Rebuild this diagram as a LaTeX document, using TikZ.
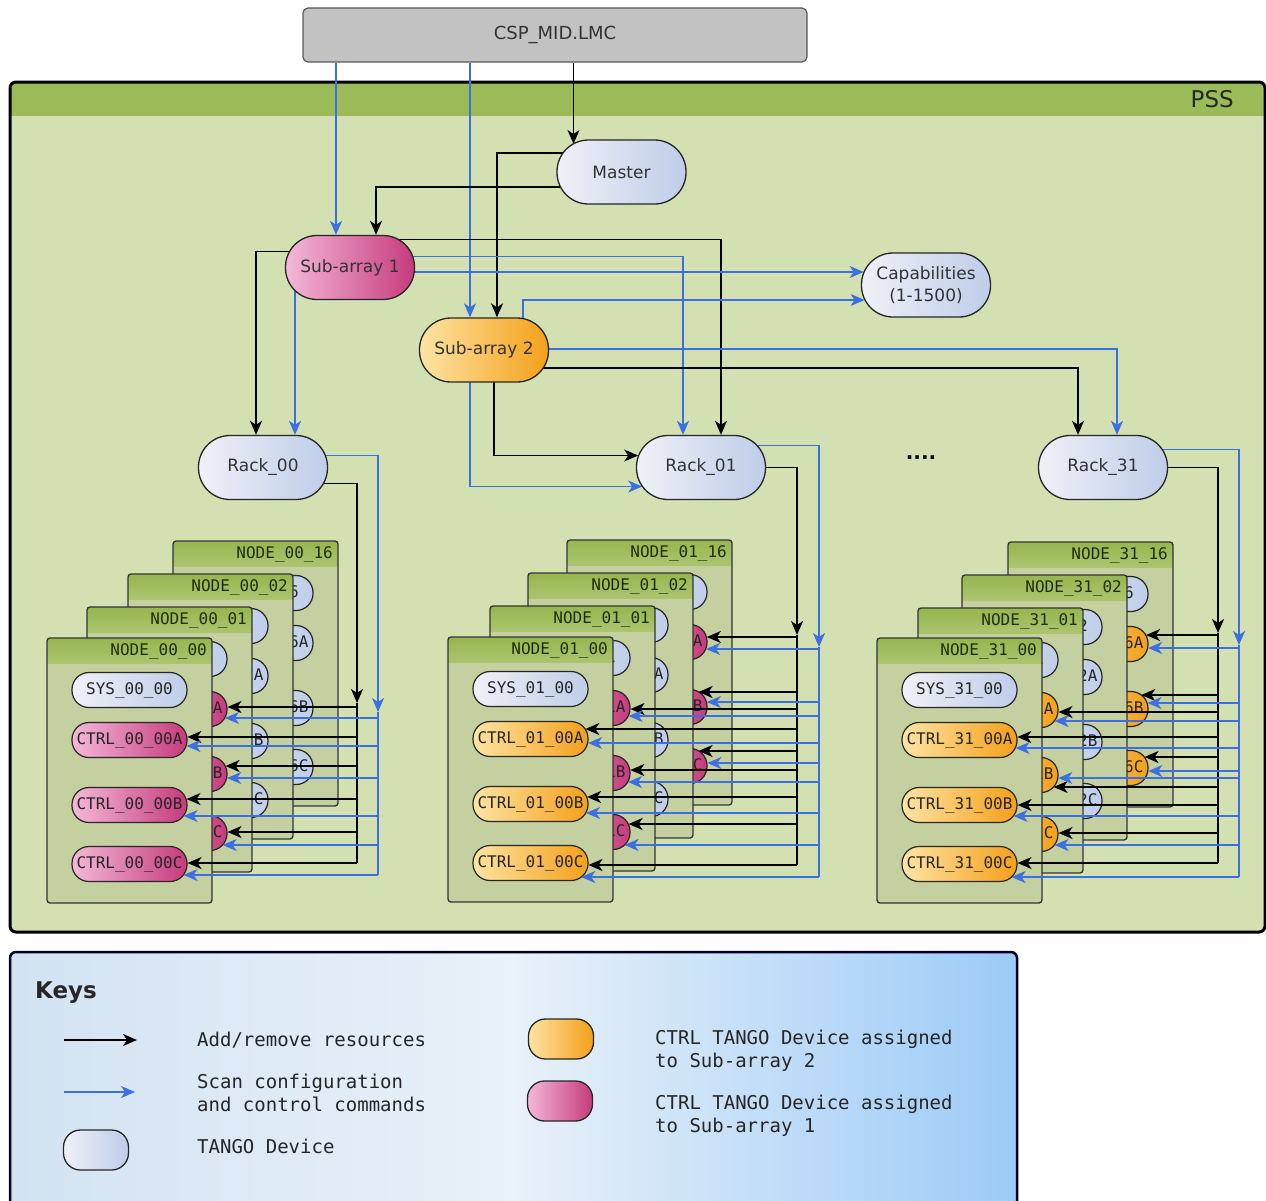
\documentclass[tikz,border=0pt]{standalone}
\usepackage{fontspec}
\setmainfont{DejaVu Sans}
\newfontfamily\monof{DejaVu Sans Mono}
\usetikzlibrary{shapes.misc,arrows.meta,calc}
\pgfdeclarelayer{back}\pgfdeclarelayer{cards}\pgfdeclarelayer{lines}
\pgfsetlayers{back,cards,lines,main}
\definecolor{pssbody}{HTML}{D3E0B2}
\definecolor{psshead}{HTML}{9BBB59}
\definecolor{cardbody}{HTML}{C4D09F}
\definecolor{cardheadA}{HTML}{96B64F}
\definecolor{cardheadB}{HTML}{ABC56E}
\definecolor{hdrtxt}{HTML}{1E2E0A}
\definecolor{linkblue}{HTML}{3C6FE2}
\definecolor{tgL}{HTML}{EEF1F7}\definecolor{tgR}{HTML}{BFCDE9}
\definecolor{pkL}{HTML}{F4B8D8}\definecolor{pkR}{HTML}{C63B7C}
\definecolor{orL}{HTML}{FEE4A3}\definecolor{orR}{HTML}{F4A01A}
\definecolor{cspgray}{HTML}{C2C2C2}
\definecolor{keyL}{HTML}{D3E3F3}\definecolor{keyM}{HTML}{E9F1F9}\definecolor{keyR}{HTML}{9CCBF7}

\newcommand\nodecard[6]{%
  \begin{scope}
    \clip[rounded corners=3] (#1,#2) rectangle ++(165,265);
    \fill[cardbody] (#1,#2) rectangle ++(165,265);
    \shade[top color=cardheadA, bottom color=cardheadB] (#1,#2) rectangle ++(165,25);
  \end{scope}
  \draw[cardline] (#1,#2) rectangle ++(165,265);
  \node[hdrtext, anchor=east] (#6H) at ($(#1,#2)+(160,13)$) {NODE\_#3\_#4};
  \node[dev, tangofill] (#6S) at ($(#1,#2)+(82.5,52)$) {SYS\_#3\_#4};
  \node[dev, #5] (#6A) at ($(#1,#2)+(82.5,102)$) {CTRL\_#3\_#4A};
  \node[dev, #5] (#6B) at ($(#1,#2)+(82.5,167)$) {CTRL\_#3\_#4B};
  \node[dev, #5] (#6C) at ($(#1,#2)+(82.5,226)$) {CTRL\_#3\_#4C};
}
\newcommand\feed[4]{%
  \draw[#1] let \p1=(#3.center), \p2=(#3.east), \p3=(#2),
     \n1={abs(-#4-(\y1))}, \n2={17-sqrt(max(0,289-(\n1)*(\n1)))}
  in (\x3,-#4pt) -- (\x2-\n2, -#4pt);}

\begin{document}
\begin{tikzpicture}[x=1pt,y=-1pt,
  tangofill/.style={left color=tgL, right color=tgR},
  pinkfill/.style={left color=pkL, right color=pkR},
  orangefill/.style={left color=orL, right color=orR},
  dev/.style={rectangle, rounded corners=17pt, draw=black!85, line width=1.2pt,
    minimum width=115, minimum height=35, inner sep=0pt, text=black!85,
    font=\monof\fontsize{16}{16}\selectfont},
  bigdev/.style={rectangle, rounded corners=31.5pt, draw=black!85, line width=1.3pt,
    minimum width=129, minimum height=64, inner sep=0pt, text=black!80,
    font=\fontsize{17}{22}\selectfont, align=center},
  cardline/.style={draw=black!80, line width=1.3pt, rounded corners=3},
  hdrtext/.style={inner sep=0pt, text=hdrtxt, font=\monof\fontsize{16}{16}\selectfont},
  blkline/.style={draw=black, line width=1.6pt},
  bluline/.style={draw=linkblue, line width=1.4pt},
  blk/.style={blkline, -{Stealth[length=14pt,width=12pt,inset=4pt]}},
  blu/.style={bluline, -{Stealth[length=14pt,width=12pt,inset=4pt]}},
  keytext/.style={anchor=west, align=left, inner sep=0pt, text=black!85,
    font=\monof\fontsize{19}{23}\selectfont},
  keyshape/.style={rectangle, rounded corners=17pt, draw=black!85, line width=1.3pt,
    minimum width=65, minimum height=40, inner sep=0pt}
]
\useasboundingbox (0,0) rectangle (1266,1200);

% PSS frame
\begin{pgfonlayer}{back}
  \begin{scope}
    \clip[rounded corners=6] (10,82) rectangle (1265,932);
    \fill[pssbody] (10,82) rectangle (1265,932);
    \fill[psshead] (10,82) rectangle (1265,116);
  \end{scope}
  \draw[line width=3pt, rounded corners=6] (10,82) rectangle (1265,932);
\end{pgfonlayer}
\node[font=\fontsize{23}{23}\selectfont, text=black!85, anchor=east, inner sep=0pt] (psslbl) at (1234,99) {PSS};

% top nodes
\node[draw=black!65, line width=1.2pt, rounded corners=5, fill=cspgray,
  minimum width=504, minimum height=54, inner sep=0pt,
  font=\fontsize{18}{18}\selectfont, text=black!80] (csp) at (555,35) {CSP\_MID.LMC};
\node[bigdev, tangofill] (master) at (621.5,172) {Master};
\node[bigdev, pinkfill] (sa1) at (350,267.5) {Sub-array 1};
\node[bigdev, orangefill] (sa2) at (484,350) {Sub-array 2};
\node[bigdev, tangofill] (cap) at (926,285) {Capabilities\\(1-1500)};
\node[bigdev, tangofill] (rack00) at (263,467.5) {Rack\_00};
\node[bigdev, tangofill] (rack01) at (701,467.5) {Rack\_01};
\node[bigdev, tangofill] (rack31) at (1103,467.5) {Rack\_31};
\node[font=\bfseries\fontsize{20}{20}\selectfont, inner sep=0pt] (dots) at (921,458) {....};

% cards
\begin{pgfonlayer}{cards}
  \nodecard{173}{541}{00}{16}{tangofill}{gA3}
  \nodecard{128}{574}{00}{02}{tangofill}{gA2}
  \nodecard{87}{607}{00}{01}{pinkfill}{gA1}
  \nodecard{47}{638}{00}{00}{pinkfill}{gA0}
  \nodecard{567}{540}{01}{16}{pinkfill}{gB3}
  \nodecard{528}{573}{01}{02}{tangofill}{gB2}
  \nodecard{490}{606}{01}{01}{pinkfill}{gB1}
  \nodecard{448}{637}{01}{00}{orangefill}{gB0}
  \nodecard{1008}{542}{31}{16}{orangefill}{gC3}
  \nodecard{962}{575}{31}{02}{tangofill}{gC2}
  \nodecard{918}{608}{31}{01}{orangefill}{gC1}
  \nodecard{877}{638}{31}{00}{orangefill}{gC0}
\end{pgfonlayer}

% connectors
\begin{pgfonlayer}{lines}
  \coordinate (e1) at ($(sa1.north)+(-14,0)$);
  \draw[blu] (csp.south -| e1) -- (e1);
  \coordinate (e2) at ($(sa2.north)+(-14,0)$);
  \draw[blu] (csp.south -| e2) -- (e2);
  \coordinate (e3) at ($(master.center)+(-48,-28)$);
  \draw[blk] (csp.south -| e3) -- (e3);
  \draw[blk] ($(master.center)+(0,-19)$) -| ($(sa2.north)+(13,0)$);
  \draw[blk] ($(master.center)+(0,15)$) -| ($(sa1.north)+(26,0)$);
  \draw[blk] ($(sa1.center)+(0,-16)$) -| ($(rack00.north)+(-7,0)$);
  \draw[blu] ($(sa1.center)+(-55,0)$) -- ($(rack00.north)+(32,0)$);
  \draw[blk] ($(sa1.center)+(0,-28)$) -| ($(rack01.north)+(20,0)$);
  \draw[blu] ($(sa1.center)+(0,-11)$) -| ($(rack01.north)+(-18,0)$);
  \draw[blu] ($(sa1.center)+(0,4.5)$) -- ($(cap.west)+(2.8,-13)$);
  \draw[blu] ($(sa2.center)+(39,0)$) |- ($(cap.west)+(3.7,15)$);
  \draw[blu] ($(sa2.center)+(0,-1)$) -| ($(rack31.north)+(14,0)$);
  \draw[blk] ($(sa2.center)+(0,18)$) -| ($(rack31.north)+(-25,0)$);
  \draw[blk] ($(sa2.center)+(10,0)$) |- ($(rack01.west)+(2.3,-12)$);
  \draw[blu] ($(sa2.center)+(-14,0)$) |- ($(rack01.west)+(6.3,19)$);

  % rack buses
  \coordinate (bAk) at (357,703); \coordinate (bAb) at (378,712);
  \draw[blk] ($(rack00.center)+(0,16)$) -| (bAk);
  \draw[blkline] (bAk) -- ++(0,160);
  \draw[blu] ($(rack00.center)+(0,-12)$) -| (bAb);
  \draw[bluline] (bAb) -- ++(0,163);
  \coordinate (bBk) at (797,635); \coordinate (bBb) at (819,647);
  \draw[blk] (rack01.center) -| (bBk);
  \draw[blkline] (bBk) -- ++(0,230);
  \draw[blu] ($(rack01.center)+(0,-22)$) -| (bBb);
  \draw[bluline] (bBb) -- ++(0,230);
  \coordinate (bCk) at (1218,633); \coordinate (bCb) at (1239,645);
  \draw[blk] (rack31.center) -| (bCk);
  \draw[blkline] (bCk) -- ++(0,230);
  \draw[blu] ($(rack31.center)+(0,-18)$) -| (bCb);
  \draw[bluline] (bCb) -- ++(0,232);

  % group 00 feeds
  \feed{blk}{bAk}{gA1A}{707} \feed{blu}{bAb}{gA1A}{718}
  \feed{blk}{bAk}{gA0A}{737} \feed{blu}{bAb}{gA0A}{746}
  \feed{blk}{bAk}{gA1B}{766} \feed{blu}{bAb}{gA1B}{778}
  \feed{blk}{bAk}{gA0B}{799} \feed{blu}{bAb}{gA0B}{816}
  \feed{blk}{bAk}{gA1C}{832} \feed{blu}{bAb}{gA1C}{845}
  \feed{blk}{bAk}{gA0C}{863} \feed{blu}{bAb}{gA0C}{875}
  % group 01 feeds
  \feed{blk}{bBk}{gB3A}{637} \feed{blu}{bBb}{gB3A}{649}
  \feed{blk}{bBk}{gB3B}{692} \feed{blu}{bBb}{gB3B}{702}
  \feed{blk}{bBk}{gB1A}{709} \feed{blu}{bBb}{gB1A}{716}
  \feed{blk}{bBk}{gB0A}{729} \feed{blu}{bBb}{gB0A}{743}
  \feed{blk}{bBk}{gB3C}{751} \feed{blu}{bBb}{gB3C}{763}
  \feed{blk}{bBk}{gB1B}{770} \feed{blu}{bBb}{gB1B}{782}
  \feed{blk}{bBk}{gB0B}{797} \feed{blu}{bBb}{gB0B}{813}
  \feed{blk}{bBk}{gB1C}{824} \feed{blu}{bBb}{gB1C}{845}
  \feed{blk}{bBk}{gB0C}{865} \feed{blu}{bBb}{gB0C}{877}
  % group 31 feeds
  \feed{blk}{bCk}{gC3A}{635} \feed{blu}{bCb}{gC3A}{648}
  \feed{blk}{bCk}{gC3B}{695} \feed{blu}{bCb}{gC3B}{703}
  \feed{blk}{bCk}{gC1A}{712} \feed{blu}{bCb}{gC1A}{721}
  \feed{blk}{bCk}{gC0A}{737} \feed{blu}{bCb}{gC0A}{748}
  \feed{blk}{bCk}{gC3C}{757} \feed{blu}{bCb}{gC3C}{771}
  \feed{blk}{bCk}{gC1B}{787} \feed{blu}{bCb}{gC1B}{778}
  \feed{blk}{bCk}{gC0B}{805} \feed{blu}{bCb}{gC0B}{816}
  \feed{blk}{bCk}{gC1C}{833} \feed{blu}{bCb}{gC1C}{845}
  \feed{blk}{bCk}{gC0C}{863} \feed{blu}{bCb}{gC0C}{877}
\end{pgfonlayer}

% legend
\draw[line width=2.5pt, draw=black!85!blue, rounded corners=6,
  left color=keyL, right color=keyR, middle color=keyM] (10,952) rectangle (1017,1215);
\node[font=\bfseries\fontsize{23}{23}\selectfont, anchor=west, inner sep=0pt, text=black!85] (keys) at (35,993) {Keys};
\coordinate (k1a) at (64,1040); \coordinate (k1b) at (137,1040);
\draw[blk] (k1a) -- (k1b);
\node[keytext] (k1t) at (197,1040) {Add/remove resources};
\coordinate (k2a) at (64,1092); \coordinate (k2b) at (135,1092);
\draw[blu] (k2a) -- (k2b);
\node[keytext] (k2t) at (197,1092.5) {Scan configuration\\and control commands};
\node[keyshape, tangofill] (k3) at (96,1150) {};
\node[keytext] (k3t) at (197,1146) {TANGO Device};
\node[keyshape, orangefill] (k4) at (561,1039) {};
\node[keytext] (k4t) at (655,1050.5) {CTRL TANGO Device assigned\\to Sub-array 2};
\node[keyshape, pinkfill] (k5) at (560,1101) {};
\node[keytext] (k5t) at (655,1115.5) {CTRL TANGO Device assigned\\to Sub-array 1};
\end{tikzpicture}
\end{document}
